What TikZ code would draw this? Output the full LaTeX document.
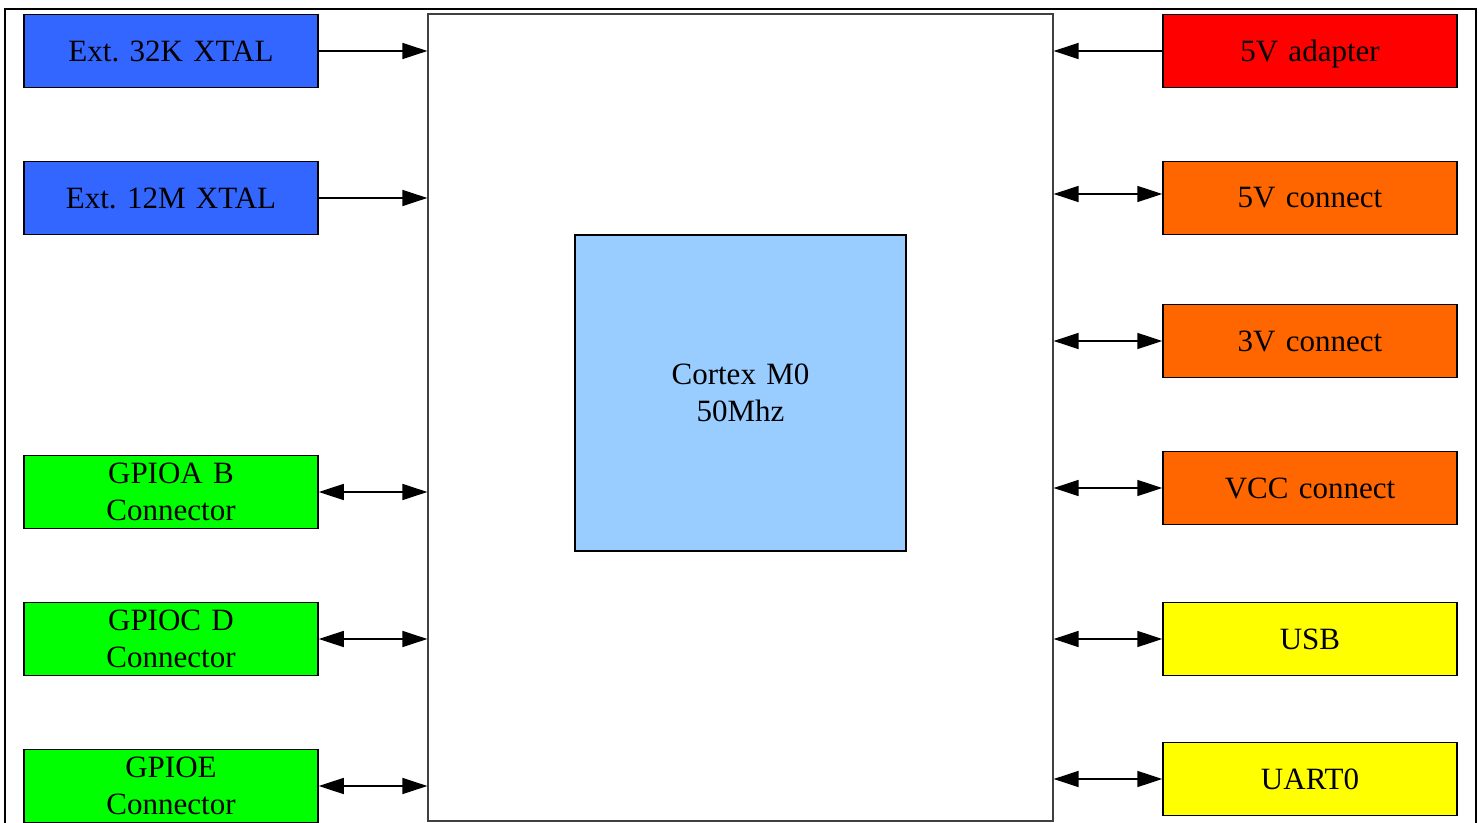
\documentclass[tikz,border=0pt]{standalone}
\usepackage{fontspec}
\setmainfont{Liberation Serif}
\usetikzlibrary{arrows.meta, positioning}
\definecolor{xtalblue}{HTML}{3366FF}
\definecolor{gpiogreen}{HTML}{00FF00}
\definecolor{pwrred}{HTML}{FF0000}
\definecolor{pwrorange}{HTML}{FF6600}
\definecolor{ioyellow}{HTML}{FFFF00}
\definecolor{coreblue}{HTML}{99CCFF}
\frenchspacing
\begin{document}
\begin{tikzpicture}[
    x=0.5pt, y=-0.5pt,
    font=\fontsize{15.5}{18.5}\selectfont,
    box/.style={rectangle, draw, line width=0.75pt, minimum width=147pt, minimum height=36.5pt, text centered, text width=140pt, inner sep=0pt},
    arrow/.style={line width=0.8pt, -{Triangle[length=12.5pt,width=8pt]}},
    biarrow/.style={line width=0.8pt, {Triangle[length=12.5pt,width=8pt]}-{Triangle[length=12.5pt,width=8pt]}}
]
\useasboundingbox (0,0) rectangle (1479,823);
% Outer frame
\draw[line width=1pt] (5,9) rectangle (1476,845);
% Chip and core
\node[rectangle, draw=black!75, line width=0.6pt, minimum width=312.5pt, minimum height=403.5pt] (chip) at (740.5,417.5) {};
\node[rectangle, draw, fill=coreblue, line width=0.75pt, minimum width=165.5pt, minimum height=158pt, text centered, text width=150pt] (core) at (740.5,393) {Cortex M0\\50Mhz};
% Left side
\node[box, fill=xtalblue] (xtal32) at (171,51) {Ext. 32K XTAL};
\node[box, fill=xtalblue] (xtal12) at (171,198) {Ext. 12M XTAL};
\node[box, fill=gpiogreen] (gpioab) at (171,492) {GPIOA B\\Connector};
\node[box, fill=gpiogreen] (gpiocd) at (171,639) {GPIOC D\\Connector};
\node[box, fill=gpiogreen] (gpioe) at (171,786) {GPIOE\\Connector};
% Right side
\node[box, fill=pwrred, text depth=0pt] (adapter) at (1310,51) {5V adapter};
\node[box, fill=pwrorange] (conn5v) at (1310,198) {5V connect};
\node[box, fill=pwrorange] (conn3v) at (1310,341) {3V connect};
\node[box, fill=pwrorange] (connvcc) at (1310,488) {VCC connect};
\node[box, fill=ioyellow] (usb) at (1310,639) {USB};
\node[box, fill=ioyellow] (uart) at (1310,779) {UART0};
% Arrows
\draw[arrow] (xtal32.east) -- (xtal32.east -| chip.west);
\draw[arrow] (xtal12.east) -- (xtal12.east -| chip.west);
\draw[biarrow] (gpioab.east) -- (gpioab.east -| chip.west);
\draw[biarrow] (gpiocd.east) -- (gpiocd.east -| chip.west);
\draw[biarrow] (gpioe.east) -- (gpioe.east -| chip.west);
\draw[arrow] (adapter.west) -- (adapter.west -| chip.east);
\draw[biarrow] ([yshift=2pt]conn5v.west) -- ([yshift=2pt]conn5v.west -| chip.east);
\draw[biarrow] (conn3v.west) -- (conn3v.west -| chip.east);
\draw[biarrow] (connvcc.west) -- (connvcc.west -| chip.east);
\draw[biarrow] (usb.west) -- (usb.west -| chip.east);
\draw[biarrow] (uart.west) -- (uart.west -| chip.east);
\end{tikzpicture}
\end{document}
